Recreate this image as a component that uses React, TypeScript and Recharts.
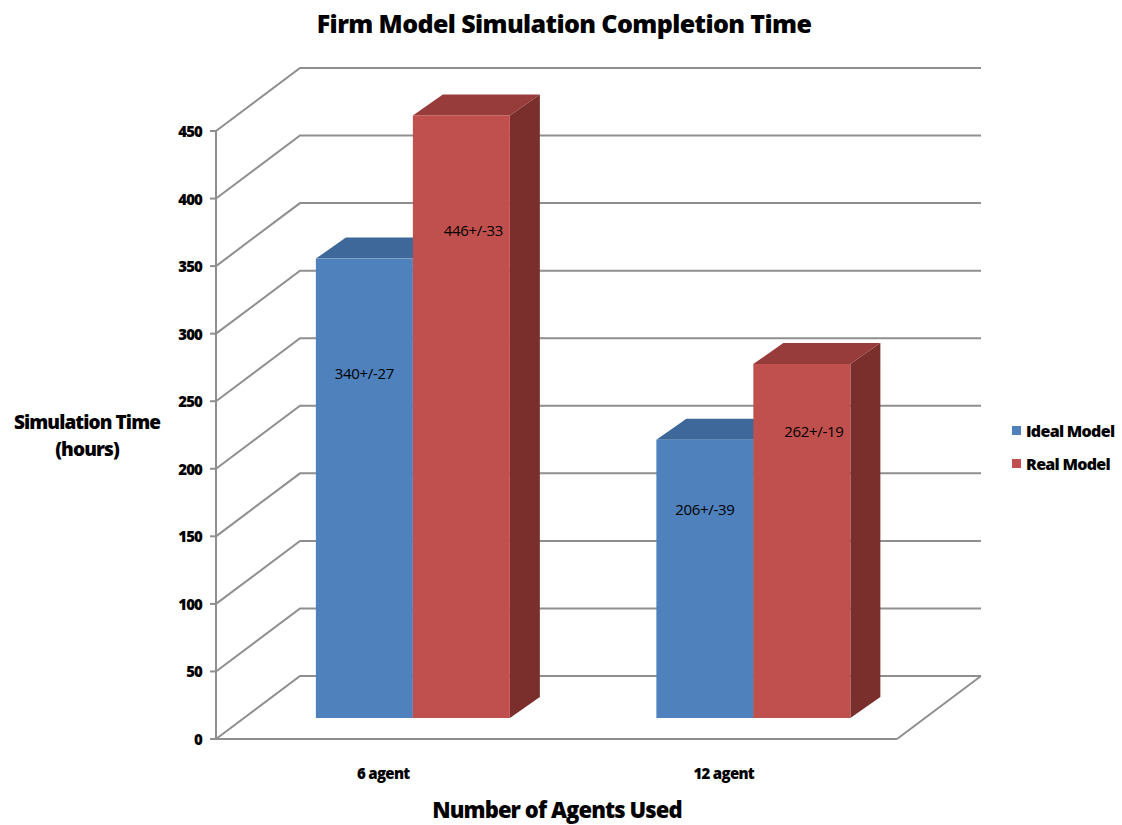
import React from 'react';
import {
  BarChart,
  Bar,
  XAxis,
  YAxis,
  CartesianGrid,
  Legend,
  LabelList
} from 'recharts';

// chart values
const categories = ['6 agent', '12 agent'];
const idealTimes = [340, 206];
const idealErrors = [27, 39];
const realTimes = [446, 262];
const realErrors = [33, 19];
const yTicks = [0, 50, 100, 150, 200, 250, 300, 350, 400, 450];
const seriesNames = ['Ideal Model', 'Real Model'];

const data = categories.map((agents, i) => ({
  agents,
  ideal: idealTimes[i],
  real: realTimes[i],
  idealLabel: `${idealTimes[i]}+/-${idealErrors[i]}`,
  realLabel: `${realTimes[i]}+/-${realErrors[i]}`
}));

const FONT = '"Open Sans", "Liberation Sans", sans-serif';
const GRID = '#8f8f8f';

// 3d depth of the wall and of the bars
const WALL_DX = 84;
const WALL_DY = -63;
const BAR_OFF_X = 27;
const BAR_OFF_Y = -21;
const BAR_DX = 30;
const BAR_DY = -21;

const colors = {
  ideal: { front: '#4f81bd', top: '#3d6899', side: '#345985' },
  real: { front: '#c0504d', top: '#973c3a', side: '#7a2f2d' }
};

const makeBar = (c: { front: string; top: string; side: string }) => (props: any) => {
  const { x, y, width, height } = props;
  if (height == null || width == null) return <g />;
  const fx = x + BAR_OFF_X;
  const fy = y + BAR_OFF_Y;
  const top = `${fx},${fy} ${fx + width},${fy} ${fx + width + BAR_DX},${fy + BAR_DY} ${fx + BAR_DX},${fy + BAR_DY}`;
  const side = `${fx + width},${fy} ${fx + width + BAR_DX},${fy + BAR_DY} ${fx + width + BAR_DX},${fy + height + BAR_DY} ${fx + width},${fy + height}`;
  return (
    <g>
      <polygon points={side} fill={c.side} />
      <polygon points={top} fill={c.top} />
      <rect x={fx} y={fy} width={width} height={height} fill={c.front} />
    </g>
  );
};

const makeLabel = (frac: number, shift: number) => (props: any) => {
  const { x, y, width, height, value } = props;
  const cx = x + BAR_OFF_X + width / 2 + shift;
  const cy = y + BAR_OFF_Y + height - height * frac;
  return (
    <text x={cx} y={cy} textAnchor="middle" dominantBaseline="central" fontFamily={FONT} fontSize={15} letterSpacing={-0.3} fill="#000">
      {value}
    </text>
  );
};

const gridLine = (props: any) => {
  const { x1, x2, y1, key } = props;
  let d = `M${x1},${y1} L${x1 + WALL_DX},${y1 + WALL_DY} L${x2 + WALL_DX},${y1 + WALL_DY}`;
  if (y1 > 735) d += ` M${x2},${y1} L${x2 + WALL_DX},${y1 + WALL_DY}`;
  return <path key={key} d={d} stroke={GRID} strokeWidth={2} fill="none" />;
};

const LegendBox = () => (
  <div style={{ fontFamily: FONT, fontWeight: 800, fontSize: 16, color: '#000' }}>
    {seriesNames.map((n, i) => (
      <div key={n} style={{ display: 'flex', alignItems: 'center', height: 33 }}>
        <span style={{ display: 'inline-block', width: 9, height: 9, background: i === 0 ? colors.ideal.front : colors.real.front, marginRight: 5 }} />
        <span style={{ letterSpacing: -0.7 }}>{n}</span>
      </div>
    ))}
  </div>
);

const XTick = (props: any) => {
  const { x, y, payload } = props;
  return (
    <text x={x - 3} y={y + 26} textAnchor="middle" dominantBaseline="central" fontFamily={FONT} fontWeight={800} fontSize={15} letterSpacing={-0.7} fill="#000">
      {payload.value}
    </text>
  );
};

const YTick = (props: any) => {
  const { x, y, payload } = props;
  return (
    <text x={x - 6} y={y} textAnchor="end" dominantBaseline="central" fontFamily={FONT} fontWeight={800} fontSize={15} letterSpacing={-0.9} fill="#000">
      {payload.value}
    </text>
  );
};

export default function App() {
  return (
    <div style={{ position: 'absolute', left: 0, top: 0, width: 1122, height: 825, background: '#fff' }}>
      <div style={{ position: 'absolute', left: 0, top: 6, width: 1128, textAlign: 'center', fontFamily: FONT, fontWeight: 800, fontSize: 25, letterSpacing: -0.6 }}>
        Firm Model Simulation Completion Time
      </div>
      <div style={{ position: 'absolute', left: 0, top: 409, width: 174, textAlign: 'center', fontFamily: FONT, fontWeight: 800, fontSize: 19, letterSpacing: -0.9, lineHeight: '27px' }}>
        Simulation Time<br />(hours)
      </div>
      <div style={{ position: 'absolute', left: 0, top: 794, width: 1114, textAlign: 'center', fontFamily: FONT, fontWeight: 800, fontSize: 22, letterSpacing: -0.9 }}>
        Number of Agents Used
      </div>
      <BarChart
        width={1122}
        height={825}
        data={data}
        margin={{ top: 131, right: 225, bottom: 56, left: 156 }}
        barCategoryGap="21.4%"
        barGap={0}
      >
        <CartesianGrid horizontal={gridLine} vertical={false} />
        <XAxis
          dataKey="agents"
          height={30}
          axisLine={{ stroke: GRID, strokeWidth: 2 }}
          tickLine={false}
          tick={<XTick />}
          interval={0}
        />
        <YAxis
          width={60}
          domain={[0, 450]}
          ticks={yTicks}
          interval={0}
          axisLine={{ stroke: GRID, strokeWidth: 2 }}
          tickLine={{ stroke: GRID, strokeWidth: 2 }}
          tickSize={6}
          tick={<YTick />}
        />
        <Legend
          layout="vertical"
          align="center"
          verticalAlign="middle"
          content={<LegendBox />}
          wrapperStyle={{ left: 1012, top: 414, width: 110 }}
        />
        <Bar dataKey="ideal" name={seriesNames[0]} fill={colors.ideal.front} shape={makeBar(colors.ideal)} isAnimationActive={false}>
          <LabelList dataKey="idealLabel" content={makeLabel(0.75, 0)} />
        </Bar>
        <Bar dataKey="real" name={seriesNames[1]} fill={colors.real.front} shape={makeBar(colors.real)} isAnimationActive={false}>
          <LabelList dataKey="realLabel" content={makeLabel(0.81, 12)} />
        </Bar>
      </BarChart>
    </div>
  );
}
